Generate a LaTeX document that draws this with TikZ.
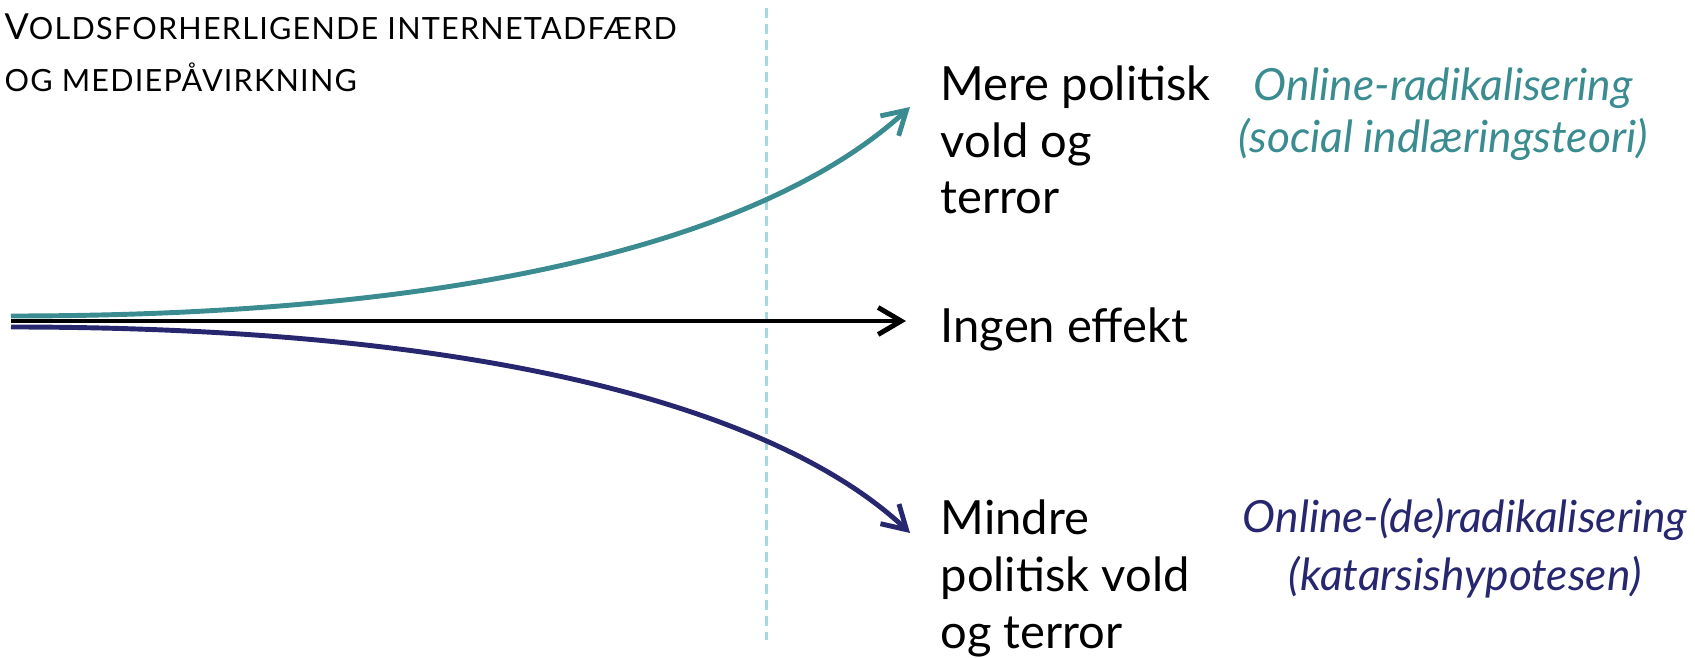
\documentclass[tikz,border=0pt]{standalone}
\usepackage{fontspec}
\setmainfont{Lato}
\usepackage{tikz}
\usetikzlibrary{arrows.meta}
\definecolor{tealc}{HTML}{3A8C91}
\definecolor{navyc}{HTML}{27276F}
\definecolor{sepc}{HTML}{A6D9DD}
\newcommand{\bigsc}[2]{{\fontsize{10.2}{15}\selectfont #1}{\fontsize{8.7}{15}\selectfont\addfontfeature{LetterSpace=4}#2}}

\begin{document}
\begin{tikzpicture}[
  x=0.01cm, y=-0.01cm,
  lbl/.style={anchor=base west, align=left, inner sep=0pt, font=\fontsize{13.4}{16.2}\selectfont},
  th/.style={anchor=base, align=center, inner sep=0pt, font=\fontsize{12.6}{15.6}\selectfont\itshape},
  pf/.style={line width=1.4pt, -{Straight Barb[length=2.3mm, width=2.7mm]}},
  sep/.style={sepc, line width=0.85pt, dash pattern=on 1mm off 0.6mm}
]
\useasboundingbox (0,0) rectangle (1695,658);
% base anchor = last line
\node[anchor=base west, align=left, inner sep=0pt, font=\fontsize{9.9}{15}\selectfont] (title) at (4,92)
  {\bigsc{V}{OLDSFORHERLIGENDE INTERNETADFÆRD}\\ \bigsc{}{OG MEDIEPÅVIRKNING}};
\node[lbl] (mere) at (940,214) {Mere politisk\\vold og\\terror};
\node[lbl] (ingen) at (940,343) {Ingen effekt};
\node[lbl] (mindre) at (940,648) {Mindre\\politisk vold\\og terror};
\node[th, text=tealc, font=\fontsize{12.6}{15}\selectfont\itshape] (radik) at (1443,153) {Online-radikalisering\\(social indlæringsteori)};
\node[th, text=navyc, font=\fontsize{12.6}{16.4}\selectfont\itshape] (derad) at (1465,590) {Online-(de)radikalisering\\(katarsishypotesen)};

\coordinate (dtop) at (766,8);
\coordinate (dbot) at (766,640);
\coordinate (srcT) at (11,316);
\coordinate (srcB) at (11,321);
\coordinate (srcN) at (11,327);
\coordinate (tipT) at (910,107);
\coordinate (tipB) at (906,321);
\coordinate (tipN) at (910,533);

\draw[sep] (dtop) -- (dbot);
\draw[pf] (srcB) -- (tipB);
\draw[pf, tealc] (srcT) .. controls (520,316) and (785,222) .. (tipT);
\draw[pf, navyc] (srcN) .. controls (520,327) and (790,420) .. (tipN);
\end{tikzpicture}
\end{document}
